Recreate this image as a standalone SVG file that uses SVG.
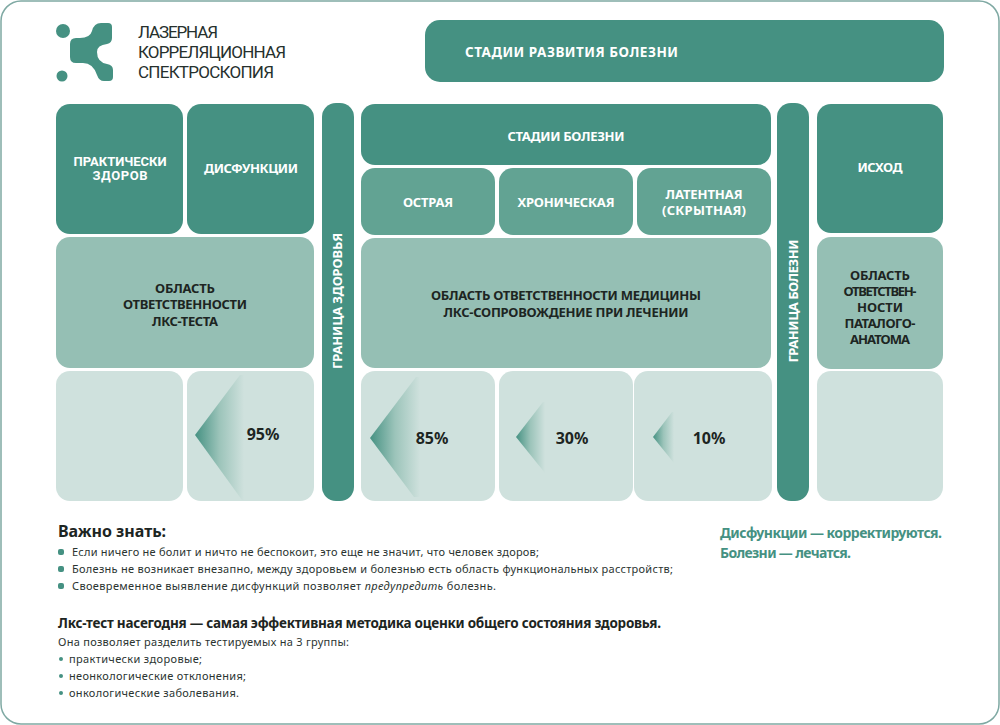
<svg xmlns="http://www.w3.org/2000/svg" width="1000" height="725" viewBox="0 0 1000 725">
<style>
text{font-family:"Noto Sans","Liberation Sans",sans-serif}
.d{fill:#459182}.m{fill:#62a393}.l{fill:#95bfb4}.p{fill:#cfe1dd}
.h{fill:#fff;font-size:13px;font-weight:700;text-anchor:middle}
.f{fill:#1d2522;font-size:13px;font-weight:700;text-anchor:middle}
.n{fill:#1d2522;font-size:16px;font-weight:700;text-anchor:middle}
.b{fill:#2b3431;font-size:11px}
.g{fill:#459182;font-size:14px;font-weight:700}
.k{fill:#459182}
.r{font-family:Roboto,"Liberation Sans",sans-serif}
.lg{font-size:17px;fill:#26302d}
</style>
<defs>
<linearGradient id="tri"><stop offset="0" stop-color="#459182"/><stop offset="0.5" stop-color="#9cc4ba"/><stop offset="1" stop-color="#cfe1dd"/></linearGradient>
</defs>
<rect x="1" y="1" width="998" height="723" rx="20" fill="#fff" stroke="#7fa9a3" stroke-width="1.5"/>
<g id="logo">
<circle cx="63" cy="31" r="7" class="k"/><circle cx="62" cy="76" r="5.5" class="k"/>
<path class="k" d="M101 23H108Q112 23 112 27V38Q112 43 107 44Q97 45 97 52Q97 62 107 64Q113 65 113 70V77Q113 81 109 81H104Q99 81 97 75Q93 63 83 63H76Q70 63 70 57V44Q70 38 76 38H80Q90 38 92 31Q94 23 101 23Z"/>
<text class="r lg" x="138" y="38" textLength="80">ЛАЗЕРНАЯ</text>
<text class="r lg" x="138" y="58" textLength="148">КОРРЕЛЯЦИОННАЯ</text>
<text class="r lg" x="138" y="78" textLength="136">СПЕКТРОСКОПИЯ</text>
</g>
<g id="title"><rect class="d" x="425" y="20" width="519" height="62" rx="15"/><text x="465" y="57" fill="#fff" font-size="13.5" font-weight="700" textLength="213">СТАДИИ РАЗВИТИЯ БОЛЕЗНИ</text></g>
<g id="healthy"><rect class="d" x="56" y="104" width="127" height="130" rx="14"/><text class="h r" x="120" y="165.5" textLength="93">ПРАКТИЧЕСКИ</text><text class="h r" x="120" y="180" textLength="55">ЗДОРОВ</text></g>
<g id="dysfunction"><rect class="d" x="187" y="104" width="127" height="130" rx="14"/><text class="h" x="251" y="173" textLength="94">ДИСФУНКЦИИ</text></g>
<g id="test-area"><rect class="l" x="56" y="237" width="258" height="131" rx="14"/><text class="f" x="185" y="293" textLength="60">ОБЛАСТЬ</text><text class="f" x="185" y="309" textLength="124">ОТВЕТСТВЕННОСТИ</text><text class="f" x="185" y="326" textLength="66">ЛКС-ТЕСТА</text></g>
<g id="health-border"><rect class="d" x="322" y="103" width="32" height="398" rx="14"/><text class="h" transform="translate(342,301) rotate(-90)" textLength="136">ГРАНИЦА ЗДОРОВЬЯ</text></g>
<g id="stages"><rect class="d" x="361" y="104" width="410" height="61" rx="14"/><text class="h" x="566" y="141" textLength="117">СТАДИИ БОЛЕЗНИ</text></g>
<g id="acute"><rect class="m" x="361" y="168" width="134" height="67" rx="14"/><text class="h" x="428" y="207" textLength="50">ОСТРАЯ</text></g>
<g id="chronic"><rect class="m" x="499" y="168" width="134" height="67" rx="14"/><text class="h" x="566" y="207" textLength="97">ХРОНИЧЕСКАЯ</text></g>
<g id="latent"><rect class="m" x="637" y="168" width="134" height="67" rx="14"/><text class="h" x="704" y="199" textLength="77">ЛАТЕНТНАЯ</text><text class="h" x="704" y="215" textLength="84">(СКРЫТНАЯ)</text></g>
<g id="medicine"><rect class="l" x="361" y="238" width="410" height="130" rx="14"/><text class="f" x="566" y="300" textLength="270">ОБЛАСТЬ ОТВЕТСТВЕННОСТИ МЕДИЦИНЫ</text><text class="f" x="566" y="317" textLength="245">ЛКС-СОПРОВОЖДЕНИЕ ПРИ ЛЕЧЕНИИ</text></g>
<g id="disease-border"><rect class="d" x="777" y="103" width="32" height="398" rx="14"/><text class="h" transform="translate(798,301) rotate(-90)" textLength="123">ГРАНИЦА БОЛЕЗНИ</text></g>
<g id="outcome"><rect class="d" x="817" y="104" width="126" height="129" rx="14"/><text class="h" x="880" y="172" textLength="45">ИСХОД</text></g>
<g id="pathology"><rect class="l" x="817" y="237" width="126" height="132" rx="14"/><text class="f" x="880" y="280" textLength="60">ОБЛАСТЬ</text><text class="f" x="880" y="296" textLength="73">ОТВЕТСТВЕН-</text><text class="f" x="880" y="312" textLength="46">НОСТИ</text><text class="f" x="880" y="328" textLength="71">ПАТАЛОГО-</text><text class="f" x="880" y="344" textLength="60">АНАТОМА</text></g>
<g id="p0"><rect class="p" x="56" y="371" width="127" height="130" rx="14"/></g>
<g id="p95"><rect class="p" x="187" y="371" width="127" height="130" rx="14"/><polygon fill="url(#tri)" points="195,435 240,375 244,375 244,500 242,500"/><text class="n" x="263" y="440">95%</text></g>
<g id="p85"><rect class="p" x="361" y="371" width="134" height="130" rx="14"/><polygon fill="url(#tri)" points="370,438 416,377 420,377 420,497 414,497"/><text class="n" x="432" y="444">85%</text></g>
<g id="p30"><rect class="p" x="499" y="371" width="134" height="130" rx="14"/><polygon fill="url(#tri)" points="516,437 543,402 545,402 545,473"/><text class="n" x="572" y="444">30%</text></g>
<g id="p10"><rect class="p" x="634" y="371" width="138" height="130" rx="14"/><polygon fill="url(#tri)" points="653,437 672,412 674,412 674,463"/><text class="n" x="709" y="444">10%</text></g>
<g id="p-end"><rect class="p" x="817" y="371" width="126" height="130" rx="14"/></g>
<g id="notes">
<text x="58" y="537" font-size="16" font-weight="700" fill="#1d2522" textLength="108">Важно знать:</text>
<rect class="k" x="58" y="549" width="6" height="6" rx="2"/><rect class="k" x="58" y="566" width="6" height="6" rx="2"/><rect class="k" x="58" y="583" width="6" height="6" rx="2"/>
<text class="b" x="72" y="556" textLength="467">Если ничего не болит и ничто не беспокоит, это еще не значит, что человек здоров;</text>
<text class="b" x="72" y="573" textLength="601">Болезнь не возникает внезапно, между здоровьем и болезнью есть область функциональных расстройств;</text>
<text class="b" x="72" y="590" textLength="424">Своевременное выявление дисфункций позволяет <tspan font-style="italic">предупредить</tspan> болезнь.</text>
<text x="58" y="628" font-size="13.5" font-weight="700" fill="#1d2522" textLength="603">Лкс-тест насегодня — самая эффективная методика оценки общего состояния здоровья.</text>
<text class="b" x="58" y="646" textLength="291">Она позволяет разделить тестируемых на 3 группы:</text>
<circle class="k" cx="61" cy="659" r="2"/><circle class="k" cx="61" cy="676" r="2"/><circle class="k" cx="61" cy="693" r="2"/>
<text class="b" x="69" y="663" textLength="133">практически здоровые;</text>
<text class="b" x="69" y="680" textLength="177">неонкологические отклонения;</text>
<text class="b" x="69" y="697" textLength="170">онкологические заболевания.</text>
<text class="g" x="720" y="538" textLength="222">Дисфункции — корректируются.</text>
<text class="g" x="720" y="558" textLength="131">Болезни — лечатся.</text>
</g>
</svg>
